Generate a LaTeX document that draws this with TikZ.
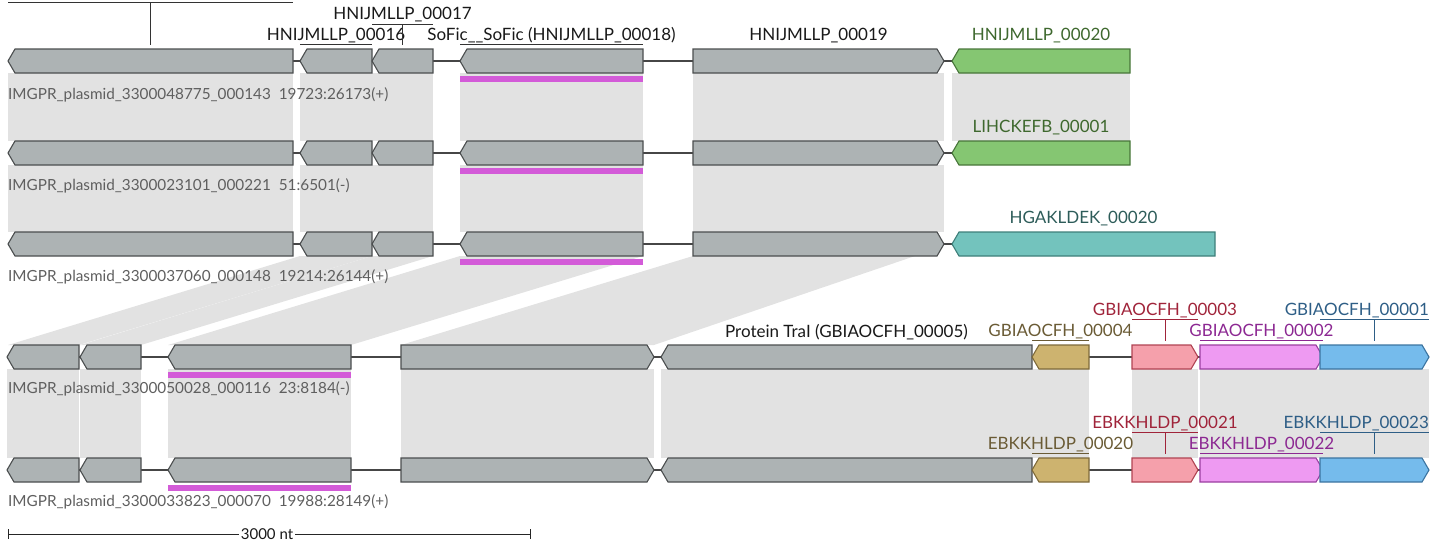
\documentclass[tikz,border=0pt]{standalone}
\usepackage{fontspec}
\setmainfont{Lato}
\definecolor{genefill}{RGB}{173,179,180}
\definecolor{geneline}{RGB}{75,78,79}
\definecolor{linkfill}{RGB}{226,226,226}
\definecolor{bbcol}{RGB}{70,70,70}
\definecolor{mag}{RGB}{211,91,216}
\definecolor{tlcol}{RGB}{95,95,95}
\definecolor{grF}{RGB}{133,198,114}\definecolor{grD}{RGB}{72,118,58}\definecolor{grT}{RGB}{62,104,46}
\definecolor{teF}{RGB}{115,195,189}\definecolor{teD}{RGB}{62,127,122}\definecolor{teT}{RGB}{45,92,89}
\definecolor{goF}{RGB}{205,179,111}\definecolor{goD}{RGB}{126,106,58}\definecolor{goT}{RGB}{106,91,53}
\definecolor{piF}{RGB}{245,160,171}\definecolor{piD}{RGB}{176,67,83}\definecolor{piT}{RGB}{160,36,58}
\definecolor{viF}{RGB}{238,154,242}\definecolor{viD}{RGB}{155,63,160}\definecolor{viT}{RGB}{140,40,146}
\definecolor{blF}{RGB}{117,187,236}\definecolor{blD}{RGB}{60,116,160}\definecolor{blT}{RGB}{46,94,134}
\newcommand\gL[4]{\draw[gene,#1] (#2,#4+12) -- (#2+7,#4) -- (#3,#4) -- (#3,#4+24) -- (#2+7,#4+24) -- cycle;}
\newcommand\gR[4]{\draw[gene,#1] (#2,#4) -- (#3-7,#4) -- (#3,#4+12) -- (#3-7,#4+24) -- (#2,#4+24) -- cycle;}
\newcommand\lk[4]{\fill[link] (#1,#3) rectangle (#2,#4);}
\newcommand\slk[6]{\fill[link] (#1,#5) -- (#2,#5) -- (#4,#6) -- (#3,#6) -- cycle;}
\begin{document}
\begin{tikzpicture}[x=1pt,y=-1pt,
  gene/.style={draw=geneline,line width=1.1pt,line join=miter,fill=genefill},
  link/.style={fill=linkfill},
  backbone/.style={draw=bbcol,line width=1.5pt},
  glabel/.style={font=\fontsize{17}{17}\selectfont,text=black!90,inner sep=0pt,anchor=base},
  tlabel/.style={font=\fontsize{15.3}{15.3}\selectfont,text=tlcol,inner sep=0pt,anchor=base west},
  lead/.style={draw=#1,line width=0.9pt},
  magbar/.style={fill=mag}]
\useasboundingbox (0,0) rectangle (1433,542);
% ---------- links ----------
% rows 1-2
\lk{8}{293}{73}{141}\lk{300}{372}{73}{141}\lk{372}{433}{73}{141}\lk{460}{643}{73}{141}\lk{693}{944}{73}{141}\lk{952}{1130}{73}{141}
% rows 2-3
\lk{8}{293}{165}{232}\lk{300}{372}{165}{232}\lk{372}{433}{165}{232}\lk{460}{643}{165}{232}\lk{693}{944}{165}{232}
% rows 3-4
\slk{300}{372}{8}{79}{256}{345}\slk{372}{433}{80}{141}{256}{345}\slk{460}{643}{168}{351}{256}{345}\slk{693}{915}{401}{654}{256}{345}
% rows 4-5
\lk{7}{79}{369}{458}\lk{80}{141}{369}{458}\lk{168}{351}{369}{458}\lk{401}{654}{369}{458}\lk{661}{1032}{369}{458}
\lk{1032}{1089}{369}{458}\lk{1132}{1198}{369}{458}\lk{1200}{1322}{369}{458}\lk{1322}{1429}{369}{458}
% ---------- backbones ----------
\coordinate (b1s) at (8,61);\coordinate (b1e) at (1130,61);
\coordinate (b2s) at (8,153);\coordinate (b2e) at (1130,153);
\coordinate (b3s) at (8,244);\coordinate (b3e) at (1215,244);
\coordinate (b4s) at (7,357);\coordinate (b4e) at (1429,357);
\coordinate (b5s) at (7,470);\coordinate (b5e) at (1429,470);
\draw[backbone] (b1s) -- (b1e);\draw[backbone] (b2s) -- (b2e);\draw[backbone] (b3s) -- (b3e);
\draw[backbone] (b4s) -- (b4e);\draw[backbone] (b5s) -- (b5e);
% ---------- genes rows 1-3 ----------
\foreach \t in {49,141,232}{
  \gL{}{8}{293}{\t}\gL{}{300}{372}{\t}\gL{}{372}{433}{\t}\gL{}{460}{643}{\t}\gR{}{693}{944}{\t}
  \fill[magbar] (460,\t+27) rectangle (643,\t+33);
}
\gL{fill=grF,draw=grD}{952}{1130}{49}
\gL{fill=grF,draw=grD}{952}{1130}{141}
\gL{fill=teF,draw=teD}{952}{1215}{232}
% ---------- genes rows 4-5 ----------
\foreach \t in {345,458}{
  \gL{}{7}{79}{\t}\gL{}{80}{141}{\t}\gL{}{168}{351}{\t}\gR{}{401}{654}{\t}\gL{}{661}{1032}{\t}
  \gL{fill=goF,draw=goD}{1032}{1089}{\t}
  \gR{fill=piF,draw=piD}{1132}{1198}{\t}
  \gR{fill=viF,draw=viD}{1200}{1323}{\t}
  \gR{fill=blF,draw=blD}{1320}{1429}{\t}
  \fill[magbar] (168,\t+27) rectangle (351,\t+33);
}
% ---------- track labels ----------
\node[tlabel] (t1) at (8,99) {IMGPR\_plasmid\_3300048775\_000143\ \ 19723:26173(+)};
\node[tlabel] (t2) at (8,190) {IMGPR\_plasmid\_3300023101\_000221\ \ 51:6501(-)};
\node[tlabel] (t3) at (8,281) {IMGPR\_plasmid\_3300037060\_000148\ \ 19214:26144(+)};
\node[tlabel] (t4) at (8,393) {IMGPR\_plasmid\_3300050028\_000116\ \ 23:8184(-)};
\node[tlabel] (t5) at (8,506) {IMGPR\_plasmid\_3300033823\_000070\ \ 19988:28149(+)};
% ---------- gene labels row 1 ----------
\draw[lead=black!80] (8,2) -- (293,2) (150.5,2) -- (150.5,45);
\node[glabel] (l16) at (336,40.5) {HNIJMLLP\_00016};
\draw[lead=black!80] (300,44.5) -- (372,44.5);
\draw[lead=black!80] (372,24) -- (433,24) (402.5,24) -- (402.5,45);
\node[glabel] (l17) at (402.5,19.5) {HNIJMLLP\_00017};
\node[glabel] (l18) at (551.5,40.5) {SoFic\_\_SoFic (HNIJMLLP\_00018)};
\draw[lead=black!80] (460,44.5) -- (643,44.5);
\node[glabel] (l19) at (818.5,40.5) {HNIJMLLP\_00019};
\node[glabel,text=grT] (l20) at (1041,40.5) {HNIJMLLP\_00020};
\node[glabel,text=grT] (m1) at (1041,132.5) {LIHCKEFB\_00001};
\node[glabel,text=teT] (h20) at (1083.5,223.5) {HGAKLDEK\_00020};
% ---------- gene labels rows 4-5 ----------
\node[glabel] (tra) at (846.5,337) {Protein TraI (GBIAOCFH\_00005)};
\foreach \t/\a/\b/\c/\d in {345/GBIAOCFH\_00004/GBIAOCFH\_00003/GBIAOCFH\_00002/GBIAOCFH\_00001,458/EBKKHLDP\_00020/EBKKHLDP\_00021/EBKKHLDP\_00022/EBKKHLDP\_00023}{
  \node[glabel,text=goT] at (1060.5,\t-8.5) {\a};
  \draw[lead=goT] (1032,\t-4.5) -- (1089,\t-4.5);
  \node[glabel,text=piT] at (1165,\t-29.5) {\b};
  \draw[lead=piT] (1132,\t-25.5) -- (1198,\t-25.5) (1165,\t-25.5) -- (1165,\t-4);
  \node[glabel,text=viT] at (1261.5,\t-8.5) {\c};
  \draw[lead=viT] (1200,\t-4.5) -- (1323,\t-4.5);
  \node[glabel,text=blT,anchor=base east] at (1429,\t-29.5) {\d};
  \draw[lead=blT] (1320,\t-25.5) -- (1429,\t-25.5) (1374.5,\t-25.5) -- (1374.5,\t-4);
}
% ---------- scale bar ----------
\coordinate (s1) at (8,534);\coordinate (s2) at (530,534);
\draw[line width=0.9pt,black!85] (s1) -- (s2) (8,529) -- (8,539) (530,529) -- (530,539);
\node[fill=white,inner xsep=1.5pt,inner ysep=0pt,font=\fontsize{15}{15}\selectfont,text=black!90] (sc) at (267,534) {3000 nt};
\end{tikzpicture}
\end{document}
